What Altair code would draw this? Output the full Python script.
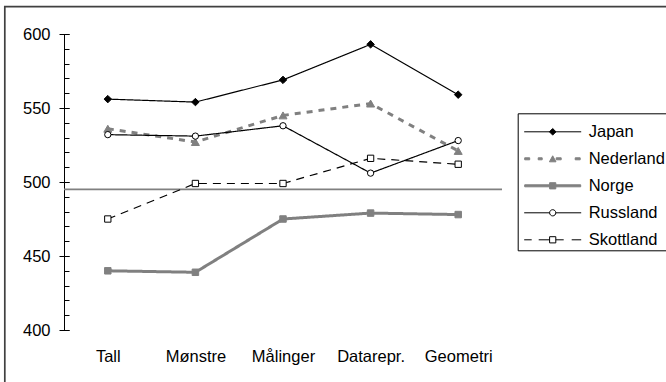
import altair as alt
import pandas as pd

# ---------------- data ----------------
categories = ["Tall", "Mønstre", "Målinger", "Datarepr.", "Geometri"]
series_names = ["Japan", "Nederland", "Norge", "Russland", "Skottland"]
japan = [556, 554, 569, 593, 559]
nederland = [536, 527, 545, 553, 521]
norge = [440, 439, 475, 479, 478]
russland = [532, 531, 538, 506, 528]
skottland = [475, 499, 499, 516, 512]
snitt = [495]
y_ticks_major = [400, 450, 500, 550, 600]
y_ticks_minor = list(range(400, 601, 10))

rows = []
for name, vals in zip(series_names, [japan, nederland, norge, russland, skottland]):
    for c, v in zip(categories, vals):
        rows.append({"serie": name, "emne": c, "poeng": v})
df = pd.DataFrame(rows)

# ---------------- styles ----------------
FONT = "Liberation Sans"
FS = 16.5
GRAY = "#808080"
line_colors = ["black", GRAY, GRAY, "black", "black"]
line_dash = [[1, 0], [6, 6], [1, 0], [1, 0], [8, 6]]
line_width = [1.2, 3, 3, 1.2, 1.2]
marker_shapes = ["diamond", "triangle-up", "square", "circle", "square"]
marker_fill = ["black", GRAY, GRAY, "white", "white"]
marker_stroke = ["black", GRAY, GRAY, "black", "black"]
marker_size = [56, 64, 42, 40, 40]

# legend symbols as custom paths (unit = 28.5 px)
U = 28.5
def p(v):
    return round(v / U, 4)
def rect(a, b, half):
    return f"M{p(a)},{-half}L{p(b)},{-half}L{p(b)},{half}L{p(a)},{half}Z"
def seg(a, b):
    return f"M{p(a)},0L{p(b)},0"
def square(h):
    h = p(h)
    return f"M{-h},{-h}L{h},{-h}L{h},{h}L{-h},{h}Z"
def diamond(h):
    h = p(h)
    return f"M0,{-h}L{h},0L0,{h}L{-h},0Z"
def circle(r):
    r = p(r)
    return f"M{r},0A{r},{r},0,1,1,{-r},0A{r},{r},0,1,1,{r},0Z"
def triangle(w, h):
    w, h = p(w), p(h)
    return f"M0,{-h}L{w},{h}L{-w},{h}Z"

TH = p(1.0)
legend_paths = [
    seg(-28.5, 28.5) + diamond(3.3),
    rect(-28, -23, TH) + rect(-14.5, -10.5, TH) + rect(3.5, 8.5, TH) + rect(22.5, 27.5, TH) + triangle(3.3, 3.0),
    rect(-28, 28, TH) + square(3.1),
    seg(-28.5, -3.1) + seg(3.1, 28.5) + circle(3.1),
    seg(-28.5, -21) + seg(-14, -3.1) + seg(3.1, 11) + seg(19, 28.5) + square(3.1),
]

x_scale = alt.Scale(type="point", padding=0.5)
y_scale = alt.Scale(domain=[400, 600], nice=False, zero=False)

x_axis = alt.Axis(orient="bottom", domain=False, ticks=False, labelPadding=18,
                  labelAngle=0, labelFont=FONT, labelFontSize=FS, labelColor="black",
                  title=None, grid=False)
axis_major = alt.Axis(orient="left", values=y_ticks_major, tickSize=10, offset=-5, domain=False,
                      grid=False, labelPadding=9, labelFont=FONT, labelFontSize=FS,
                      labelColor="black", tickColor="black", tickWidth=1, title=None)
axis_minor = alt.Axis(orient="left", values=y_ticks_minor, tickSize=5, offset=-5, domain=False,
                      grid=False, labels=False, tickColor="black", tickWidth=1, title=None)
axis_line = alt.Axis(orient="left", domain=True, domainColor="black", domainWidth=1,
                     ticks=False, labels=False, grid=False, title=None)

x_enc = alt.X("emne:N", sort=categories, scale=x_scale, axis=x_axis)

base = alt.Chart(df)

frame = alt.Chart(alt.Data(values=[{"ramme": 1}])).mark_rect(
    fill="transparent", stroke="#404040", strokeWidth=1.7
).encode(x=alt.value(-59.2), x2=alt.value(720), y=alt.value(-27.3), y2=alt.value(420))

ref = alt.Chart(pd.DataFrame({"snitt": snitt})).mark_rule(color=GRAY, strokeWidth=1.6).encode(
    y=alt.Y("snitt:Q", scale=y_scale, axis=None)
)

lines = base.mark_line().encode(
    x=x_enc,
    y=alt.Y("poeng:Q", scale=y_scale, axis=axis_major),
    color=alt.Color("serie:N", scale=alt.Scale(domain=series_names, range=line_colors), legend=None),
    strokeDash=alt.StrokeDash("serie:N", scale=alt.Scale(domain=series_names, range=line_dash), legend=None),
    strokeWidth=alt.StrokeWidth("serie:N", scale=alt.Scale(type="ordinal", domain=series_names, range=line_width), legend=None),
)

points = base.mark_point(filled=True, opacity=1, strokeWidth=1).encode(
    x=x_enc,
    y=alt.Y("poeng:Q", scale=y_scale, axis=axis_minor),
    shape=alt.Shape("serie:N", scale=alt.Scale(domain=series_names, range=marker_shapes), legend=None),
    fill=alt.Fill("serie:N", scale=alt.Scale(domain=series_names, range=marker_fill), legend=None),
    stroke=alt.Stroke("serie:N", scale=alt.Scale(domain=series_names, range=marker_stroke), legend=None),
    size=alt.Size("serie:N", scale=alt.Scale(type="ordinal", domain=series_names, range=marker_size), legend=None),
)

leg = alt.Legend(
    orient="none", legendX=453.7, legendY=79.3, direction="vertical",
    title=" ", titleFontSize=6, titlePadding=2,
    strokeColor="black", padding=2,
    symbolSize=U * U * 4, symbolStrokeWidth=1, symbolOpacity=1,
    symbolFillColor="white", symbolStrokeColor="black",
    symbolOffset=4, labelOffset=7, clipHeight=17, rowPadding=10,
    labelFont=FONT, labelFontSize=FS, labelColor="black",
)

legend_src = base.transform_filter("datum.poeng < 0").mark_point(
    filled=True, opacity=1, strokeWidth=1, size=U * U * 4
).encode(
    x=x_enc,
    y=alt.Y("poeng:Q", scale=y_scale, axis=axis_line),
    shape=alt.Shape("serie:N", scale=alt.Scale(domain=series_names, range=legend_paths), legend=leg),
    fill=alt.Fill("serie:N", scale=alt.Scale(domain=series_names, range=marker_fill), legend=leg),
    stroke=alt.Stroke("serie:N", scale=alt.Scale(domain=series_names, range=marker_stroke), legend=leg),
)

chart = alt.layer(frame, ref, lines, points, legend_src).resolve_scale(
    shape="independent", fill="independent", stroke="independent"
).resolve_axis(y="independent").properties(
    width=438, height=296,
    padding={"left": 64, "top": 34, "right": 164, "bottom": 52},
    autosize=alt.AutoSizeParams(type="none"),
    background="white",
).configure_view(stroke="transparent")

chart.save("out.html", embed_options={"renderer": "svg", "actions": False})
